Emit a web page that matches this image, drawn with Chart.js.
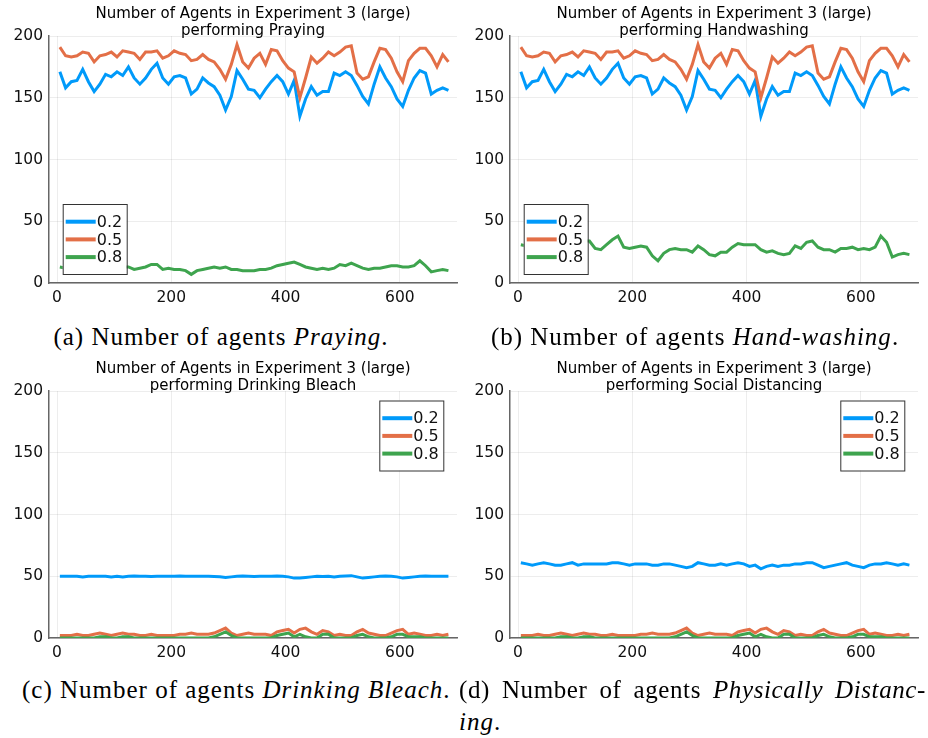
<!DOCTYPE html>
<html>
<head>
<meta charset="utf-8">
<script src="https://cdn.jsdelivr.net/npm/chart.js@4.4.0/dist/chart.umd.min.js"></script>
<style>
  body { margin: 0; background: #fff; }
  #page { position: relative; width: 928px; height: 738px; overflow: hidden; background: #fff; }
  .plot { position: absolute; }
  .caption { position: absolute; font-family: "Liberation Serif", "Times New Roman", serif; font-size: 25px; line-height: 28px; letter-spacing: 1px; color: #000; white-space: nowrap; }
  .center { text-align: center; width: 440px; }
  .justify { text-align: justify; text-align-last: justify; white-space: normal; letter-spacing: 0.6px; }
</style>
</head>
<body>
<div id="page">
  <canvas class="plot" id="chart-praying" width="464" height="310" style="left:0;top:0"></canvas>
  <canvas class="plot" id="chart-washing" width="464" height="310" style="left:461px;top:0"></canvas>
  <canvas class="plot" id="chart-bleach" width="464" height="310" style="left:0;top:355px"></canvas>
  <canvas class="plot" id="chart-distancing" width="464" height="310" style="left:461px;top:355px"></canvas>

  <div class="caption center" style="left:1px;top:323px">(a) Number of agents <i>Praying</i>.</div>
  <div class="caption center" style="left:475px;top:323px">(b) Number of agents <i>Hand-washing</i>.</div>
  <div class="caption" style="left:22px;top:676px">(c) Number of agents <i>Drinking Bleach</i>.</div>
  <div class="caption justify" style="left:459px;top:676px;width:467px">(d) Number of agents <i>Physically Distanc-</i></div>
  <div class="caption" style="left:459px;top:708px"><i>ing</i>.</div>
</div>

<script>
// time steps (x) shared by every series
const STEPS = [5, 15, 25, 35, 45, 55, 65, 75, 85, 95,
  105, 115, 125, 135, 145, 155, 165, 175, 185, 195,
  205, 215, 225, 235, 245, 255, 265, 275, 285, 295,
  305, 315, 325, 335, 345, 355, 365, 375, 385, 395,
  405, 415, 425, 435, 445, 455, 465, 475, 485, 495,
  505, 515, 525, 535, 545, 555, 565, 575, 585, 595,
  605, 615, 625, 635, 645, 655, 665, 675, 685];

const SERIES_LABELS = ["0.2", "0.5", "0.8"];
const X_TICKS = [0, 200, 400, 600];
const Y_TICKS = [0, 50, 100, 150, 200];

// Praying / Handwashing share the same 0.2 and 0.5 curves
const PRAY_02 = [171, 158, 163, 164, 173, 163, 155, 161, 169, 167,
  171, 168, 175, 166, 161, 166, 173, 178, 166, 161,
  167, 168, 166, 153, 157, 166, 162, 159, 152, 140,
  151, 172, 165, 157, 156, 150, 157, 163, 168, 163,
  153, 164, 135, 149, 159, 152, 155, 155, 170, 168,
  171, 168, 160, 151, 145, 161, 175, 166, 159, 149,
  143, 156, 166, 172, 170, 153, 156, 158, 156];
const PRAY_05 = [191, 184, 183, 184, 187, 186, 179, 184, 185, 187,
  183, 188, 187, 186, 181, 187, 187, 188, 182, 184,
  188, 186, 185, 180, 181, 185, 181, 179, 173, 165,
  177, 193, 179, 174, 182, 186, 177, 189, 188, 180,
  174, 171, 150, 166, 183, 178, 182, 187, 184, 187,
  191, 192, 170, 165, 167, 179, 190, 189, 182, 171,
  163, 180, 186, 190, 190, 184, 175, 185, 179];
const PRAY_08 = [13, 12, 13, 12, 13, 12, 12, 13, 12, 13,
  12, 13, 13, 11, 12, 13, 15, 15, 11, 12,
  11, 11, 10, 7, 10, 11, 12, 13, 12, 13,
  11, 11, 10, 10, 10, 11, 11, 12, 14, 15,
  16, 17, 15, 13, 12, 11, 12, 11, 12, 15,
  14, 16, 14, 12, 11, 12, 12, 13, 14, 14,
  13, 13, 14, 18, 14, 9, 10, 11, 10];

const WASH_02 = PRAY_02;
const WASH_05 = PRAY_05;
const WASH_08 = [31, 30, 32, 33, 31, 34, 32, 30, 33, 35,
  33, 34, 34, 28, 27, 31, 35, 38, 29, 28,
  29, 30, 29, 22, 18, 24, 27, 28, 27, 27,
  25, 30, 27, 23, 22, 25, 25, 29, 32, 31,
  31, 31, 27, 25, 26, 24, 23, 24, 30, 28,
  33, 34, 29, 27, 27, 25, 28, 28, 29, 27,
  28, 27, 29, 38, 33, 21, 23, 24, 23];

// Drinking Bleach / Social Distancing share the 0.5 and 0.8 curves
const BLEACH_02 = [50, 50, 50, 50, 49.5, 50, 50, 50, 50, 49.5,
  50, 49.5, 50, 50.3, 50, 50, 49.8, 50, 50, 50,
  50, 50.3, 50, 50, 50, 50, 50, 49.8, 49.5, 49,
  49.5, 50, 50.3, 50, 49.8, 50, 50, 50, 50.3, 50,
  49.5, 48.5, 48.5, 49, 49.5, 50, 49.8, 50, 49.5, 50,
  50.3, 50.5, 49.5, 48.5, 49, 49.5, 50, 50.3, 50, 49.5,
  48.5, 49, 49.5, 50, 50.3, 50, 50, 50, 50];
const BLEACH_05 = [2, 2, 2, 3, 2, 2, 3, 4, 3, 2,
  3, 4, 3, 3, 2, 2, 3, 2, 2, 2,
  2, 3, 3, 4, 3, 3, 3, 4, 6, 8,
  4, 2, 3, 4, 3, 3, 3, 2, 5, 6,
  7, 4, 7, 8, 5, 3, 6, 5, 2, 3,
  2, 2, 5, 7, 4, 3, 2, 2, 4, 6,
  7, 3, 4, 3, 2, 2, 3, 2, 3];
const BLEACH_08 = [0, 0, 0, 0, 0, 0, 0, 1, 1, 0,
  0, 1, 1, 0, 0, 0, 0, 0, 0, 0,
  0, 0, 0, 0, 0, 0, 0, 1, 3, 5,
  2, 0, 0, 0, 0, 0, 0, 0, 2, 3,
  4, 1, 3, 1, 0, 0, 3, 3, 0, 0,
  0, 0, 2, 3, 1, 0, 0, 0, 1, 3,
  3, 1, 1, 1, 0, 0, 0, 0, 0];

const DIST_02 = [61, 60, 59, 60, 61, 60, 59, 59, 60, 61,
  59, 60, 60, 60, 60, 60, 61, 61, 60, 59,
  60, 60, 60, 59, 59, 60, 60, 59, 58, 57,
  58, 61, 60, 59, 59, 60, 59, 60, 61, 60,
  58, 59, 56, 58, 59, 58, 59, 59, 60, 60,
  61, 61, 59, 57, 58, 59, 60, 61, 59, 58,
  57, 59, 60, 60, 61, 60, 59, 60, 59];
const DIST_05 = BLEACH_05;
const DIST_08 = BLEACH_08;

const COLORS = ["#009AFA", "#E36F47", "#3EA44E"];
const TITLE_TOP = "Number of Agents in Experiment 3 (large)";

Chart.defaults.font.family = '"DejaVu Sans", sans-serif';
Chart.defaults.color = "#111";

// Boxed legend like the GR backend: white fill, thin frame, drawn over the lines
const boxLegend = {
	id: "boxLegend",
	afterDatasetsDraw(chart, args, opts) {
		const { ctx, chartArea } = chart;
		const w = 64, h = 70;
		const x = opts.corner === "topright" ? chartArea.right - 13.7 - w : chartArea.left + 13.7;
		const y = opts.corner === "topright" ? chartArea.top + 9.5 : chartArea.bottom - 9 - h;
		ctx.save();
		ctx.fillStyle = "#fff";
		ctx.strokeStyle = "#333";
		ctx.lineWidth = 1;
		ctx.fillRect(x, y, w, h);
		ctx.strokeRect(x + 0.5, y + 0.5, w, h);
		ctx.font = '16px "DejaVu Sans"';
		ctx.textBaseline = "middle";
		chart.data.datasets.forEach((ds, i) => {
			const cy = y + 17.7 + i * 17.7;
			ctx.strokeStyle = ds.borderColor;
			ctx.lineWidth = 4;
			ctx.beginPath();
			ctx.moveTo(x + 3, cy);
			ctx.lineTo(x + 33, cy);
			ctx.stroke();
			ctx.fillStyle = "#111";
			ctx.fillText(ds.label, x + 34, cy + 1);
		});
		ctx.restore();
	},
};

const makeChart = (id, activity, values, corner) => {
	const datasets = values.map((vals, i) => ({
		label: SERIES_LABELS[i],
		data: STEPS.map((s, j) => ({ x: s, y: vals[j] })),
		borderColor: COLORS[i],
		borderWidth: 3,
		pointRadius: 0,
		tension: 0,
		order: 3 - i,
	}));

	return new Chart(document.getElementById(id), {
		type: "line",
		data: { datasets },
		plugins: [boxLegend],
		options: {
			responsive: false,
			animation: false,
			layout: { padding: { left: 0, right: 7, top: 0, bottom: 0 } },
			scales: {
				x: {
					type: "linear",
					min: -14,
					max: 700,
					afterBuildTicks: (s) => { s.ticks = X_TICKS.map((v) => ({ value: v })); },
					afterFit: (s) => { s.height = 27; },
					border: { display: true, color: "#666", width: 1.5 },
					grid: { color: "rgba(0,0,0,0.07)", drawTicks: false },
					ticks: { padding: 6, font: { size: 15.5 }, maxRotation: 0 },
				},
				y: {
					min: 0,
					max: 200,
					afterBuildTicks: (s) => { s.ticks = Y_TICKS.map((v) => ({ value: v })); },
					afterFit: (s) => { s.width = 49; },
					border: { display: true, color: "#666", width: 1.5 },
					grid: { color: "rgba(0,0,0,0.07)", drawTicks: false },
					ticks: { padding: 6, font: { size: 15.5 } },
				},
			},
			plugins: {
				legend: { display: false },
				tooltip: { enabled: false },
				title: {
					display: true,
					fullSize: false,
					text: [TITLE_TOP, "performing " + activity],
					color: "#000",
					font: { size: 15, weight: "normal", lineHeight: 1.18 },
					padding: { top: 5, bottom: -4.4 },
				},
				boxLegend: { corner },
			},
		},
	});
};

makeChart("chart-praying", "Praying", [PRAY_02, PRAY_05, PRAY_08], "bottomleft");
makeChart("chart-washing", "Handwashing", [WASH_02, WASH_05, WASH_08], "bottomleft");
makeChart("chart-bleach", "Drinking Bleach", [BLEACH_02, BLEACH_05, BLEACH_08], "topright");
makeChart("chart-distancing", "Social Distancing", [DIST_02, DIST_05, DIST_08], "topright");
</script>
</body>
</html>
